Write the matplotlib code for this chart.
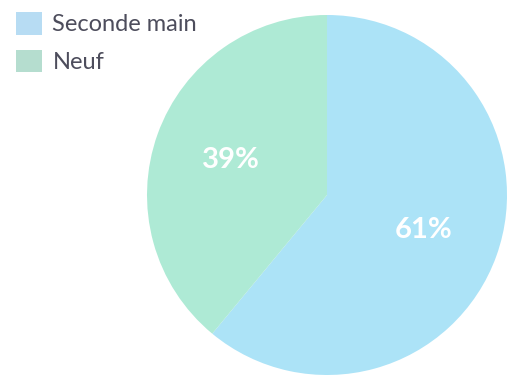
import matplotlib.pyplot as plt
from matplotlib.patches import Patch

labels = ['Seconde main', 'Neuf']
shares = [61, 39]
wedge_colors = ['#ace3f7', '#aeead5']
legend_colors = ['#b7dcf3', '#b5ddcf']

fig = plt.figure(figsize=(5.09, 3.75), dpi=100)
ax = fig.add_axes([0.2888, 0.0, 0.7073, 0.96])

wedges, texts, autotexts = ax.pie(shares, colors=wedge_colors, startangle=90, counterclock=False,
                                  autopct='%d%%', pctdistance=0.57,
                                  textprops={'color': 'white', 'fontsize': 21, 'fontweight': 'bold',
                                             'family': 'Lato'})
ax.set_xlim(-1, 1)
ax.set_ylim(-1, 1)
ax.set_aspect('equal')

handles = [Patch(facecolor=c, edgecolor='none') for c in legend_colors]
leg = fig.legend(handles, labels, loc='upper left', bbox_to_anchor=(0.031, 0.968), frameon=False,
                 prop={'family': 'Lato', 'size': 17}, handlelength=1.1, handleheight=1.1,
                 handletextpad=0.45, labelspacing=0.6, borderaxespad=0, borderpad=0)
for t in leg.get_texts():
    t.set_color('#4d4d5c')

plt.savefig('out.png', dpi=100)
